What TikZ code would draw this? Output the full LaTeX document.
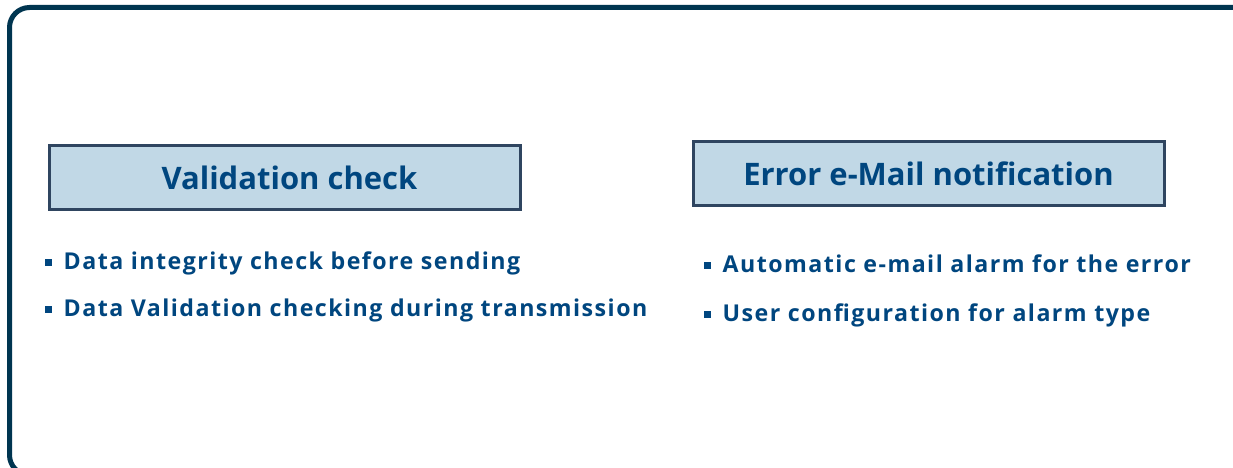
\documentclass[tikz,border=0pt]{standalone}
\usepackage{fontspec}
\setmainfont{Open Sans}
\newfontfamily\itemfont[LetterSpace=6.3]{Open Sans}
\usepackage{tikz}
\usetikzlibrary{shapes}
\definecolor{framenavy}{RGB}{0,53,80}
\definecolor{headfill}{RGB}{193,216,230}
\definecolor{headline}{RGB}{47,69,96}
\definecolor{textblue}{RGB}{0,70,127}
\newcommand{\sqbullet}{\raisebox{4pt}{\rule{6.5pt}{6.5pt}}\hspace{12pt}}

\begin{document}
\begin{tikzpicture}[x=1pt, y=1pt]

\tikzstyle{head} = [rectangle, draw=headline, line width=3pt, fill=headfill, text=textblue, font=\fontsize{31}{37}\selectfont\bfseries, minimum width=471pt, minimum height=64pt, inner sep=0pt]
\tikzstyle{item} = [anchor=base west, text=textblue, font=\itemfont\fontsize{23.2}{28}\selectfont\bfseries, inner sep=0pt]

\useasboundingbox (0,0) rectangle (1233,468);
\fill[white] (0,0) rectangle (1233,468);
\clip (0,0) rectangle (1233,468);

% outer frame
\draw[framenavy, line width=5pt, rounded corners=20pt] (9.5,-7) rectangle (1260,460.5);

\node[head] (v) at (284.5,290.5) {\hspace*{10pt}Validation check};
\node[head] (e) at (928.5,294) {Error e-Mail notification};

\node[item] (v1) at (45,198) {\sqbullet Data integrity check before sending};
\node[item] (v2) at (45,151) {\sqbullet Data Validation checking during transmission};

\node[item] (e1) at (704,195) {\sqbullet Automatic e-mail alarm for the error};
\node[item] (e2) at (704,146) {\sqbullet User configuration for alarm type};
\end{tikzpicture}
\end{document}
